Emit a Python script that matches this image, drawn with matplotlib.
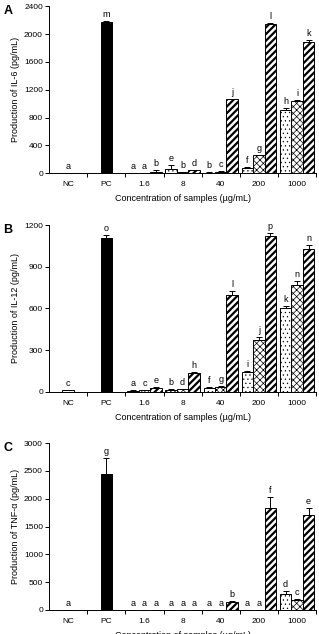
import matplotlib.pyplot as plt
import numpy as np

plt.rcParams['font.family'] = ['Liberation Sans', 'DejaVu Sans']

groups = ["NC", "PC", "1.6", "8", "40", "200", "1000"]

# IL-6 (A)
il6_nc, il6_nc_err, il6_nc_lab = 5, 0, "a"
il6_pc, il6_pc_err, il6_pc_lab = 2180, 15, "m"
il6_dot = [5, 60, 8, 70, 910]
il6_dot_err = [0, 60, 3, 20, 30]
il6_dot_lab = ["a", "e", "b", "f", "h"]
il6_cross = [5, 10, 20, 260, 1040]
il6_cross_err = [0, 3, 5, 5, 15]
il6_cross_lab = ["a", "b", "c", "g", "i"]
il6_diag = [15, 45, 1060, 2150, 1890]
il6_diag_err = [30, 5, 10, 10, 30]
il6_diag_lab = ["b", "d", "j", "l", "k"]

# IL-12 (B)
il12_nc, il12_nc_err, il12_nc_lab = 12, 2, "c"
il12_pc, il12_pc_err, il12_pc_lab = 1110, 15, "o"
il12_dot = [8, 15, 30, 140, 600]
il12_dot_err = [3, 3, 2, 10, 20]
il12_dot_lab = ["a", "b", "f", "i", "k"]
il12_cross = [12, 18, 35, 370, 770]
il12_cross_err = [3, 3, 5, 25, 30]
il12_cross_lab = ["c", "d", "g", "j", "n"]
il12_diag = [25, 135, 700, 1120, 1030]
il12_diag_err = [10, 10, 25, 20, 25]
il12_diag_lab = ["e", "h", "l", "p", "n"]

# TNF-a (C)
tnf_nc, tnf_nc_err, tnf_nc_lab = 0, 0, "a"
tnf_pc, tnf_pc_err, tnf_pc_lab = 2440, 290, "g"
tnf_dot = [0, 5, 0, 0, 280]
tnf_dot_err = [0, 0, 0, 0, 60]
tnf_dot_lab = ["a", "a", "a", "a", "d"]
tnf_cross = [0, 5, 0, 5, 170]
tnf_cross_err = [0, 0, 0, 0, 20]
tnf_cross_lab = ["a", "a", "a", "a", "c"]
tnf_diag = [0, 5, 150, 1830, 1710]
tnf_diag_err = [0, 0, 10, 200, 120]
tnf_diag_lab = ["a", "a", "b", "f", "e"]

panels = [
    ("A", "Production of IL-6 (pg/mL)", 2400, 400,
     (il6_nc, il6_nc_err, il6_nc_lab), (il6_pc, il6_pc_err, il6_pc_lab),
     [(il6_dot, il6_dot_err, il6_dot_lab), (il6_cross, il6_cross_err, il6_cross_lab),
      (il6_diag, il6_diag_err, il6_diag_lab)]),
    ("B", "Production of IL-12 (pg/mL)", 1200, 300,
     (il12_nc, il12_nc_err, il12_nc_lab), (il12_pc, il12_pc_err, il12_pc_lab),
     [(il12_dot, il12_dot_err, il12_dot_lab), (il12_cross, il12_cross_err, il12_cross_lab),
      (il12_diag, il12_diag_err, il12_diag_lab)]),
    ("C", "Production of TNF-α (pg/mL)", 3000, 500,
     (tnf_nc, tnf_nc_err, tnf_nc_lab), (tnf_pc, tnf_pc_err, tnf_pc_lab),
     [(tnf_dot, tnf_dot_err, tnf_dot_lab), (tnf_cross, tnf_cross_err, tnf_cross_lab),
      (tnf_diag, tnf_diag_err, tnf_diag_lab)]),
]

hatches = ["....", "xxxxx", "/////"]
hatch_lw = [0.4, 0.5, 1.6]
w = 0.3
ekw = dict(elinewidth=0.7, capsize=2, capthick=0.7)

fig = plt.figure(figsize=(3.19, 6.34), dpi=100)
bottoms = [0.727, 0.382, 0.038]

for (letter, ylabel, ymax, ystep, nc, pc, series), bot in zip(panels, bottoms):
    ax = fig.add_axes([0.154, bot, 0.837, 0.263])
    off = ymax * 0.012

    def labels(xs, vals, errs, labs):
        for x, v, e, t in zip(xs, vals, errs, labs):
            ax.text(x, v + e + off, t, ha="center", va="bottom", fontsize=6.5)

    ax.bar([0], [nc[0]], w, color="white", edgecolor="black", linewidth=0.7,
           yerr=[[0], [nc[1]]], error_kw=ekw)
    labels([0], [nc[0]], [nc[1]], [nc[2]])
    ax.bar([1], [pc[0]], w, color="black", edgecolor="black", linewidth=0.7,
           yerr=[[0], [pc[1]]], error_kw=ekw)
    labels([1], [pc[0]], [pc[1]], [pc[2]])

    xs = np.arange(2, 7)
    for k, (vals, errs, labs) in enumerate(series):
        pos = xs + (k - 1) * w
        bars = ax.bar(pos, vals, w, color="white", edgecolor="black", linewidth=0.7,
                      hatch=hatches[k], yerr=[np.zeros(5), errs], error_kw=ekw)
        for b in bars:
            if hasattr(b, "set_hatch_linewidth"):
                b.set_hatch_linewidth(hatch_lw[k])
        labels(pos, vals, errs, labs)

    ax.set_xlim(-0.5, 6.5)
    ax.set_ylim(0, ymax)
    ax.set_yticks(np.arange(0, ymax + 1, ystep))
    ax.set_xticks(range(7))
    ax.set_xticklabels(groups)
    ax.set_xticks(np.arange(0.5, 7, 1), minor=True)
    ax.tick_params(axis="x", which="major", length=0, labelsize=6, pad=6)
    ax.tick_params(axis="x", which="minor", length=3, width=0.7, direction="out")
    ax.tick_params(axis="y", length=3, width=0.7, labelsize=6, pad=1.5)
    for s in ["top", "right"]:
        ax.spines[s].set_visible(False)
    for s in ["left", "bottom"]:
        ax.spines[s].set_linewidth(0.7)
    ax.set_ylabel(ylabel, fontsize=6.5, labelpad=3)
    ax.set_xlabel("Concentration of samples (µg/mL)", fontsize=6.5, labelpad=4)
    ax.text(-0.172, 0.972, letter, transform=ax.transAxes, fontsize=9,
            fontweight="bold", ha="left", va="center")

fig.savefig("out.png", dpi=100)
